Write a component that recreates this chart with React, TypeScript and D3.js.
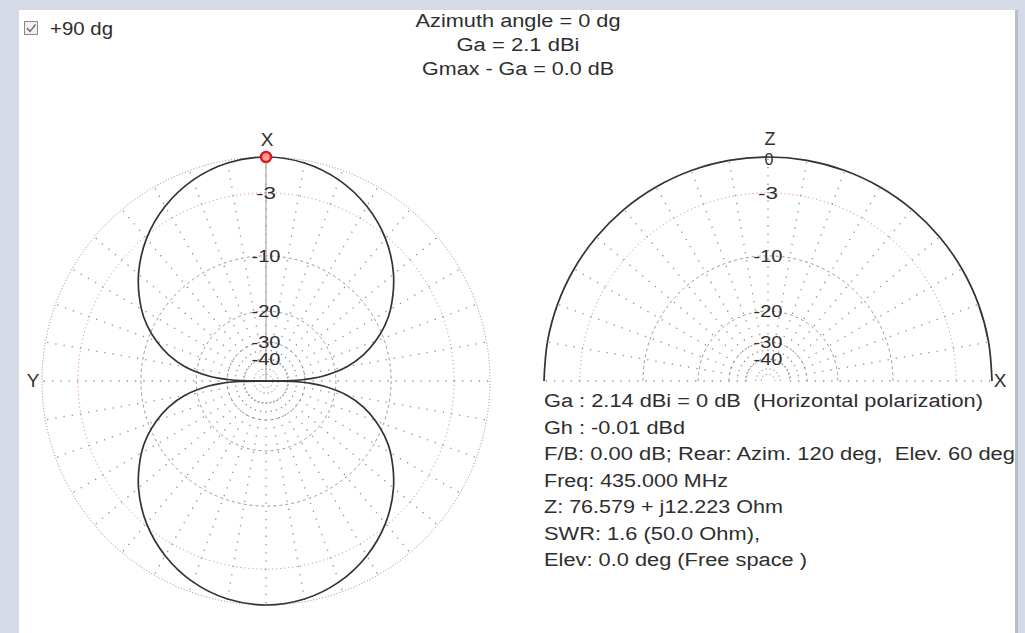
import React from "react";
import * as d3 from "d3";

// azimuth pattern (left plot), first quadrant in degrees from X; the plot is symmetric on both axes
const azAngles = [0, 10, 20, 30, 40, 50, 60, 65, 70, 75, 80, 85, 87, 88, 89, 90];
const azGain: (number | null)[] = [0, -0.2, -0.8, -1.8, -3.2, -5.1, -7.6, -9.2, -11.2, -13.7, -17.2, -23.3, -27.7, -31.2, -37.3, null];

// elevation pattern (right plot), free space -> flat
const elAngles = [0, 10, 20, 30, 40, 50, 60, 70, 80, 90, 100, 110, 120, 130, 140, 150, 160, 170, 180];
const elGain = [0, 0, 0, 0, 0, 0, 0, 0, 0, 0, 0, 0, 0, 0, 0, 0, 0, 0, 0];

const ringDb = [0, -3, -10, -20, -30, -40, -50, -60];
const labelDb = [-3, -10, -20, -30, -40];
const spokeStep = 10;

const titleLines = ["Azimuth angle = 0 dg", "Ga = 2.1 dBi", "Gmax - Ga = 0.0 dB"];
const titleWidths = [205, 123, 192];
const infoLines = [
  "Ga : 2.14 dBi = 0 dB  (Horizontal polarization)",
  "Gh : -0.01 dBd",
  "F/B: 0.00 dB; Rear: Azim. 120 deg,  Elev. 60 deg",
  "Freq: 435.000 MHz",
  "Z: 76.579 + j12.223 Ohm",
  "SWR: 1.6 (50.0 Ohm),",
  "Elev: 0.0 deg (Free space )",
];
const infoWidths = [439, 141, 471, 184, 239, 216, 263];

const W = 1025;
const H = 633;
const R = 224;
const cy = 381;
const leftCx = 266;
const rightCx = 768;
const font = "'Liberation Sans', Arial, sans-serif";
const ink = "#2e2e2e";

// ARRL log scale: 2 dB per factor 0.89
const rOfDb = d3.scaleLog().domain([R * Math.pow(0.89, 30), R]).range([-60, 0]);
const radius = (db: number | null) => (db == null ? 0 : rOfDb.invert(db));

const ringStyle = (db: number) => {
  if (db === 0) return { stroke: "#8a8a8a", dash: "1 2" };
  if (db === -3) return { stroke: "#e07070", dash: "1 3" };
  if (db >= -30) return { stroke: "#999", dash: "3 3" };
  return { stroke: "#aaa", dash: "2 2" };
};

const Txt = ({ x, y, w, anchor = "start", size = 18, children }: any) => (
  <text
    x={x}
    y={y}
    textAnchor={anchor}
    fontSize={size}
    fontFamily={font}
    fill={ink}
    textLength={w}
    lengthAdjust={w ? "spacingAndGlyphs" : undefined}
    style={{ whiteSpace: "pre" }}
  >
    {children}
  </text>
);

const Rings = ({ cx, half }: { cx: number; half: boolean }) => (
  <g>
    {ringDb.map((db) => {
      const r = radius(db);
      const s = ringStyle(db);
      const p = d3.path();
      if (half) {
        p.moveTo(cx - r, cy);
        p.arc(cx, cy, r, Math.PI, 2 * Math.PI);
      } else {
        p.moveTo(cx + r, cy);
        p.arc(cx, cy, r, 0, 2 * Math.PI);
      }
      return <path key={db} d={p.toString()} fill="none" stroke={s.stroke} strokeDasharray={s.dash} strokeWidth={1} />;
    })}
  </g>
);

const Spokes = ({ cx, half }: { cx: number; half: boolean }) => {
  const angles = half ? d3.range(0, 181, spokeStep) : d3.range(0, 360, spokeStep);
  const r0 = radius(-40);
  return (
    <g stroke="#8f8f8f" strokeWidth={1.3} strokeDasharray="1.3 7">
      {angles.map((a) => {
        const t = ((half ? 90 - a : a) * Math.PI) / 180;
        return (
          <line
            key={a}
            x1={cx + r0 * Math.sin(t)}
            y1={cy - r0 * Math.cos(t)}
            x2={cx + R * Math.sin(t)}
            y2={cy - R * Math.cos(t)}
          />
        );
      })}
    </g>
  );
};

const RingLabels = ({ cx }: { cx: number }) => (
  <g>
    {labelDb.map((db) => (
      <Txt key={db} x={cx} y={cy - radius(db) + 6} anchor="middle" size={17} w={db === -3 ? 20 : 29}>
        {String(db)}
      </Txt>
    ))}
  </g>
);

type Pt = { a: number; g: number | null };

const App = () => {
  const radial = d3
    .lineRadial<Pt>()
    .angle((d) => (d.a * Math.PI) / 180)
    .radius((d) => radius(d.g))
    .curve(d3.curveCatmullRom.alpha(0.5));

  const n = azAngles.length;
  const topLobe: Pt[] = [
    ...d3.range(n - 1, 0, -1).map((i) => ({ a: -azAngles[i], g: azGain[i] })),
    ...d3.range(0, n).map((i) => ({ a: azAngles[i], g: azGain[i] })),
  ];
  const bottomLobe: Pt[] = [
    ...d3.range(n - 1, 0, -1).map((i) => ({ a: 180 - azAngles[i], g: azGain[i] })),
    ...d3.range(0, n).map((i) => ({ a: 180 + azAngles[i], g: azGain[i] })),
  ];
  const elPts: Pt[] = elAngles.map((e, i) => ({ a: 90 - e, g: elGain[i] }));

  return (
    <div style={{ position: "fixed", left: 0, top: 0 }}>
      <svg width={W} height={H} style={{ display: "block" }}>
        <rect width={W} height={H} fill="#d5dbe6" />
        <rect x={19} y={10} width={996} height={H - 10} fill="#fff" />
        <rect x={1015} y={10} width={3} height={H - 10} fill="#b9bdc5" />

        {/* checkbox */}
        <rect x={24.5} y={21.5} width={13} height={13} fill="#f0f0f0" stroke="#8a8a8a" />
        <path d="M27 28 L30 31.5 L35.5 24.5" fill="none" stroke="#666" strokeWidth={1.3} />
        <Txt x={50} y={35} w={63} size={19}>+90 dg</Txt>

        {titleLines.map((t, i) => (
          <Txt key={t} x={518} y={27 + i * 24} anchor="middle" w={titleWidths[i]} size={18}>
            {t}
          </Txt>
        ))}

        {/* left: azimuth plot */}
        <g>
          <Rings cx={leftCx} half={false} />
          <Spokes cx={leftCx} half={false} />
          <line x1={leftCx} y1={cy - R} x2={leftCx} y2={cy} stroke="#a8a8a8" strokeWidth={1.2} />
          <g transform={`translate(${leftCx},${cy})`} fill="none" stroke="#333" strokeWidth={1.7}>
            <path d={radial(topLobe) ?? ""} />
            <path d={radial(bottomLobe) ?? ""} />
          </g>
          <RingLabels cx={leftCx} />
          <Txt x={leftCx + 1} y={146} anchor="middle" size={19}>X</Txt>
          <Txt x={33} y={387} anchor="middle" size={19}>Y</Txt>
          <circle cx={leftCx} cy={cy - R} r={5} fill="#ff9a9a" stroke="#e01818" strokeWidth={2.5} />
        </g>

        {/* right: elevation plot */}
        <g>
          <Rings cx={rightCx} half={true} />
          <Spokes cx={rightCx} half={true} />
          <g transform={`translate(${rightCx},${cy})`} fill="none" stroke="#333" strokeWidth={1.7}>
            <path d={radial(elPts) ?? ""} />
          </g>
          <RingLabels cx={rightCx} />
          <Txt x={rightCx + 1} y={165} anchor="middle" size={16}>0</Txt>
          <Txt x={rightCx + 2} y={145} anchor="middle" size={18}>Z</Txt>
          <Txt x={1000} y={387} anchor="middle" size={19}>X</Txt>
        </g>

        {infoLines.map((t, i) => (
          <Txt key={t} x={544} y={407 + i * 26.5} w={infoWidths[i]} size={18}>
            {t}
          </Txt>
        ))}
      </svg>
    </div>
  );
};

export default App;
